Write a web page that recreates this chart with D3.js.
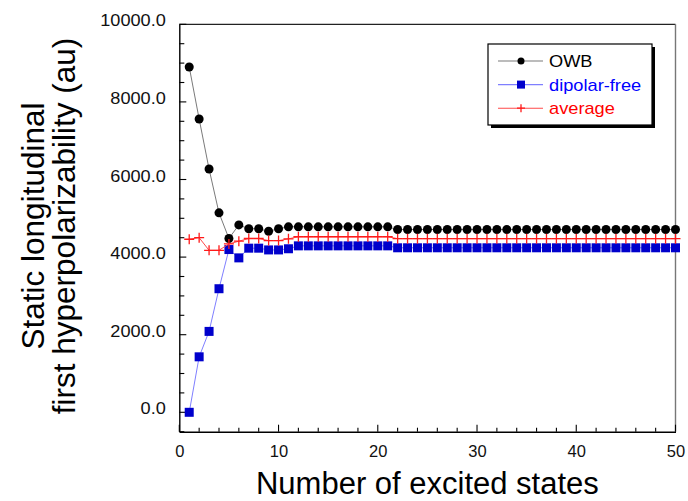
<!DOCTYPE html>
<html>
<head>
<meta charset="utf-8">
<script src="https://cdn.jsdelivr.net/npm/d3@7/dist/d3.min.js"></script>
<style>
  html, body { margin: 0; padding: 0; background: #fff; }
  svg text { font-family: "Liberation Sans", Arial, Helvetica, sans-serif; }
</style>
</head>
<body>
<svg id="chart" width="688" height="501"></svg>
<script>
// Number of excited states included in the sum-over-states expression
const states = [1,2,3,4,5,6,7,8,9,10,
  11,12,13,14,15,16,17,18,19,20,
  21,22,23,24,25,26,27,28,29,30,
  31,32,33,34,35,36,37,38,39,40,
  41,42,43,44,45,46,47,48,49,50];

// Static longitudinal first hyperpolarizability (au)
const owb = [8900,7560,6270,5140,4480,4830,4730,4730,4665,4730,
  4780,4780,4780,4780,4780,4780,4780,4780,4780,4780,
  4780,4710,4710,4710,4710,4710,4710,4710,4710,4710,
  4710,4710,4710,4710,4710,4710,4710,4710,4710,4710,
  4710,4710,4710,4710,4710,4710,4710,4710,4710,4710];

const dipolarFree = [0,1430,2085,3185,4195,3980,4230,4230,4185,4185,
  4215,4290,4290,4290,4290,4290,4290,4290,4290,4290,
  4290,4240,4240,4240,4240,4240,4240,4240,4240,4240,
  4240,4240,4240,4240,4240,4240,4240,4240,4240,4240,
  4240,4240,4240,4240,4240,4240,4240,4240,4240,4240];

const average = [4460,4500,4175,4175,4340,4410,4480,4480,4425,4425,
  4470,4525,4525,4525,4525,4525,4525,4525,4525,4525,
  4525,4475,4475,4475,4475,4475,4475,4475,4475,4475,
  4475,4475,4475,4475,4475,4475,4475,4475,4475,4475,
  4475,4475,4475,4475,4475,4475,4475,4475,4475,4475];

const seriesNames = ["OWB", "dipolar-free", "average"];
const xTicks = [0, 10, 20, 30, 40, 50];
const yTicks = [0, 2000, 4000, 6000, 8000, 10000];

const svg = d3.select("#chart");
const plotL = 179.3, plotR = 675.5, plotT = 24.3, plotB = 431.7;

const x = d3.scaleLinear().domain([0, 50]).range([plotL, plotR]);
const y = d3.scaleLinear().domain([-500, 10000]).range([plotB, plotT]);

const styles = [
  { line: "#7a7a7a", mark: "circle", fill: "#000", text: "#000" },
  { line: "#7f7fff", mark: "square", fill: "#0000cc", text: "#0000ff" },
  { line: "#ff4a4a", mark: "plus", fill: "#ff1a1a", text: "#ff0000" }
];
const allSeries = [owb, dipolarFree, average];

// frame: top and right edges
svg.append("line").attr("x1", plotL).attr("x2", plotR).attr("y1", plotT).attr("y2", plotT)
  .attr("stroke", "#222").attr("stroke-width", 1.2);
svg.append("line").attr("x1", plotR).attr("x2", plotR).attr("y1", plotT).attr("y2", plotB)
  .attr("stroke", "#777").attr("stroke-width", 1.4);

// bottom axis, ticks pointing inward
const xAxis = d3.axisBottom(x).tickValues(xTicks).tickSize(0).tickPadding(14)
  .tickFormat(d3.format("d"));
const gx = svg.append("g").attr("transform", `translate(0,${plotB})`).call(xAxis);
gx.select(".domain").attr("stroke", "#000").attr("stroke-width", 1.4);
gx.selectAll("text").attr("font-size", 16.5).attr("fill", "#111");
gx.selectAll(".minor").data(d3.range(0, 51, 2)).enter().append("line")
  .attr("x1", d => x(d)).attr("x2", d => x(d))
  .attr("y1", 0).attr("y2", d => d % 10 === 0 ? -7 : -4)
  .attr("stroke", "#000").attr("stroke-width", 1.1);

// left axis, ticks pointing inward; labels slightly widened
const yStretch = 1.1;
const yAxis = d3.axisLeft(y).tickValues(yTicks).tickSize(0).tickPadding(13)
  .tickFormat(d3.format(".1f"));
const gy = svg.append("g").attr("transform", `translate(${plotL},0)`).call(yAxis);
gy.select(".domain").attr("stroke", "#000").attr("stroke-width", 1.4);
gy.selectAll("text").attr("font-size", 16.5).attr("fill", "#111").attr("dy", "0.1em")
  .attr("x", -13.5 / yStretch).attr("transform", `scale(${yStretch},1)`);
gy.selectAll(".minor").data(d3.range(-500, 10001, 500)).enter().append("line")
  .attr("y1", d => y(d)).attr("y2", d => y(d))
  .attr("x1", 0).attr("x2", d => d % 2000 === 0 ? 7 : 5)
  .attr("stroke", "#000").attr("stroke-width", 1.1);

// series lines and markers
const line = d3.line().x((d, i) => x(states[i])).y(d => y(d));

function drawMark(g, kind, cx, cy, color, size) {
  if (kind === "circle") {
    g.append("circle").attr("cx", cx).attr("cy", cy).attr("r", size / 2).attr("fill", color);
  } else if (kind === "square") {
    g.append("rect").attr("x", cx - size / 2).attr("y", cy - size / 2)
      .attr("width", size).attr("height", size).attr("fill", color);
  } else {
    g.append("path").attr("d", `M${cx - size / 2},${cy}H${cx + size / 2}M${cx},${cy - size / 2}V${cy + size / 2}`)
      .attr("stroke", color).attr("stroke-width", 1.3).attr("fill", "none");
  }
}
const markSize = { circle: 9, square: 9, plus: 10 };

allSeries.forEach((vals, k) => {
  const st = styles[k];
  const g = svg.append("g");
  g.append("path").attr("d", line(vals)).attr("fill", "none")
    .attr("stroke", st.line).attr("stroke-width", 1);
  vals.forEach((v, i) => drawMark(g, st.mark, x(states[i]), y(v), st.fill, markSize[st.mark]));
});

// legend with drop shadow
const lg = svg.append("g");
const lx = 488, ly = 44, lw = 164, lh = 81;
lg.append("rect").attr("x", lx + 3).attr("y", ly + 3).attr("width", lw).attr("height", lh).attr("fill", "#000");
lg.append("rect").attr("x", lx).attr("y", ly).attr("width", lw).attr("height", lh)
  .attr("fill", "#fff").attr("stroke", "#000").attr("stroke-width", 1.2);
const legendMark = { circle: 7, square: 8, plus: 8 };
const legStretch = 1.14;
seriesNames.forEach((name, k) => {
  const st = styles[k];
  const yy = ly + 17 + k * 23.6;
  lg.append("line").attr("x1", lx + 10).attr("x2", lx + 55).attr("y1", yy).attr("y2", yy)
    .attr("stroke", st.line).attr("stroke-width", 1.1);
  drawMark(lg, st.mark, lx + 33, yy, st.fill, legendMark[st.mark]);
  lg.append("text").attr("transform", `translate(${lx + 61},${yy + 6}) scale(${legStretch},1)`)
    .attr("font-size", 16).attr("fill", st.text).text(name);
});

// axis titles
svg.append("text").attr("x", (plotL + plotR) / 2).attr("y", 494).attr("text-anchor", "middle")
  .attr("font-size", 31).attr("fill", "#000").text("Number of excited states");
const yt = svg.append("text").attr("transform", "translate(0,226) rotate(-90)")
  .attr("text-anchor", "middle").attr("font-size", 31.5).attr("fill", "#000");
yt.append("tspan").attr("x", 0).attr("y", 43.5).text("Static longitudinal");
yt.append("tspan").attr("x", 0).attr("y", 74.5).text("first hyperpolarizability (au)");
</script>
</body>
</html>
